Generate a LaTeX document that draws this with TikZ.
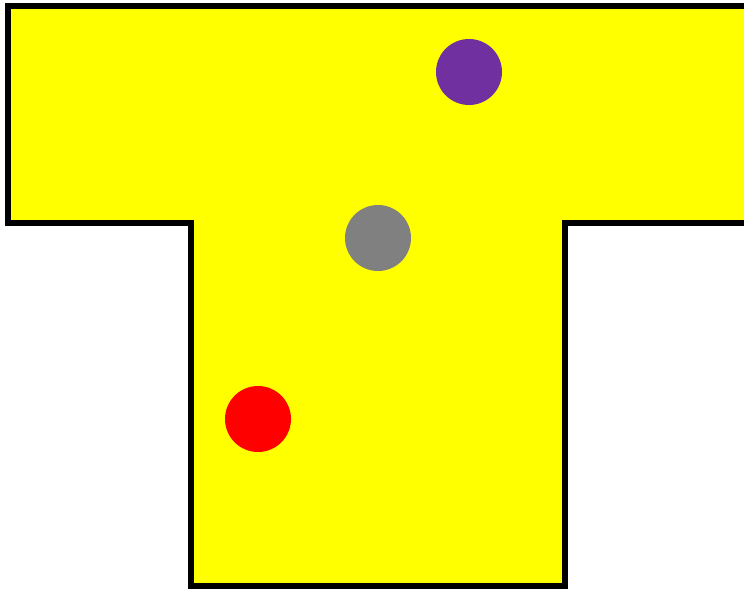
\documentclass[tikz,border=0pt]{standalone}
\definecolor{tyellow}{HTML}{FFFF00}
\definecolor{tpurple}{HTML}{7030A0}
\definecolor{tgray}{HTML}{808080}
\definecolor{tred}{HTML}{FF0000}
\begin{document}
\begin{tikzpicture}[x=0.02cm,y=-0.02cm]
	\useasboundingbox (0,0) rectangle (744,589);
	\clip (0,0) rectangle (744,589);
	
	% relleno
	\fill[tyellow] (744,6) -- (8,6) -- (8,223) -- (191,223) -- (191,586) -- (565,586) -- (565,223) -- (744,223) -- cycle;
	
	% borde
	\draw[line width=3.2pt,line join=miter] (750,6) -- (8,6) -- (8,223) -- (191,223) -- (191,586) -- (565,586) -- (565,223) -- (750,223);
	
	% circulos
	\fill[tpurple] (469,72) circle (33);
	\fill[tgray] (378,238) circle (33);
	\fill[tred] (258,419) circle (33);
\end{tikzpicture}
\end{document}
